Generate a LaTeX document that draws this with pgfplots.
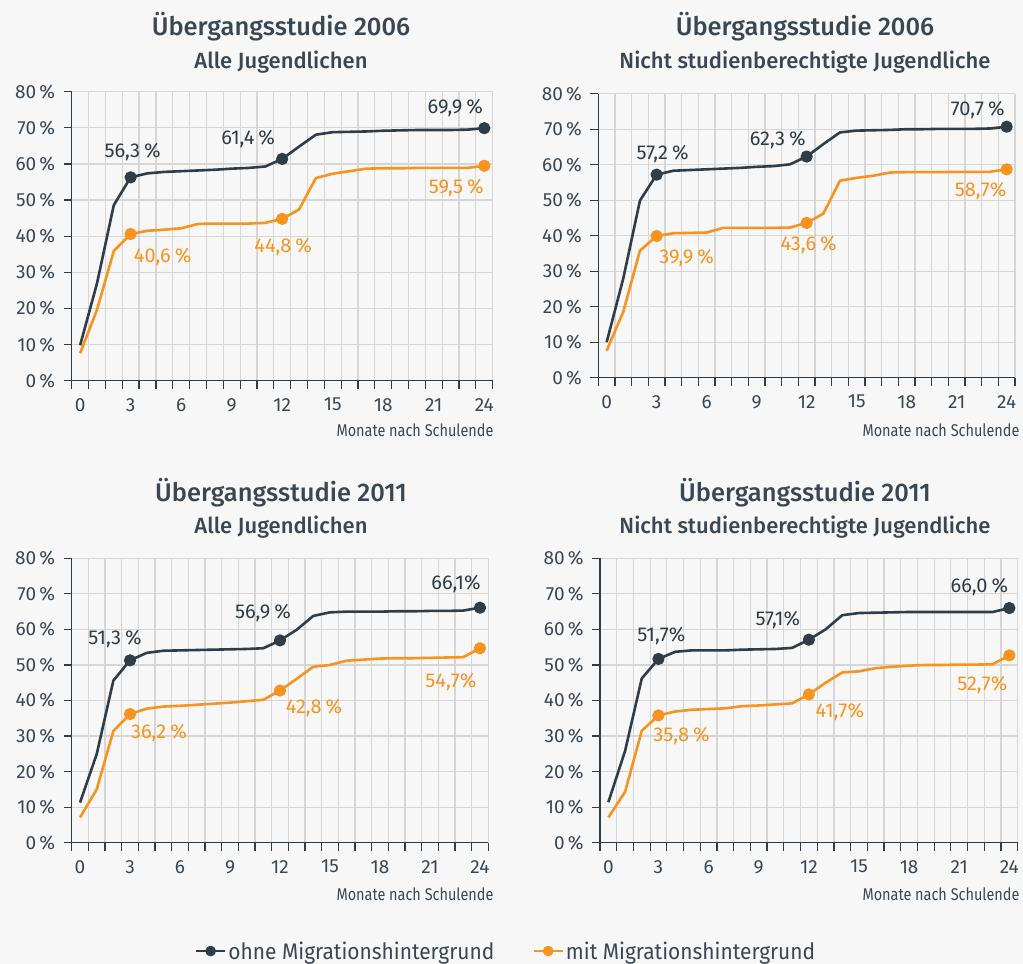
\documentclass[border=0pt]{standalone}
\usepackage{pgfplots}
\pgfplotsset{compat=1.18}
\usepackage{pgfplotstable}
\usepackage{fontspec}
\setmainfont{Fira Sans}
\newfontfamily\medfont{Fira Sans Medium}
\newfontfamily\condfont[FakeStretch=0.85]{Fira Sans}
\newfontfamily\legfont[FakeStretch=0.93]{Fira Sans}
\definecolor{bg}{HTML}{F7F7F7}
\definecolor{dk}{HTML}{2E3D48}
\definecolor{og}{HTML}{F7931E}
\definecolor{gr}{HTML}{D6D6D6}
\definecolor{tx}{HTML}{3A4753}

\pgfplotstableread{
m a b
0 9.8 7.6
1 26.9 19.6
2 48.6 35.9
3 56.3 40.6
4 57.4 41.5
5 57.8 41.8
6 58.0 42.2
7 58.2 43.4
8 58.4 43.5
9 58.7 43.5
10 58.9 43.5
11 59.3 43.7
12 61.4 44.8
13 64.8 47.4
14 68.1 56.1
15 68.8 57.3
16 68.9 58.0
17 69.0 58.7
18 69.2 58.8
19 69.3 58.8
20 69.4 58.9
21 69.4 58.9
22 69.4 58.9
23 69.5 58.9
24 69.9 59.5
}\tabTL
\pgfplotstableread{
m a b
0 10.0 7.6
1 28.0 18.6
2 49.9 35.8
3 57.2 39.9
4 58.3 40.7
5 58.5 40.8
6 58.7 40.9
7 58.9 42.2
8 59.1 42.2
9 59.4 42.2
10 59.6 42.2
11 60.1 42.3
12 62.3 43.6
13 65.8 46.2
14 69.1 55.5
15 69.6 56.3
16 69.7 56.9
17 69.8 57.8
18 70.0 57.9
19 70.0 57.9
20 70.1 57.9
21 70.1 58.0
22 70.1 58.0
23 70.2 58.0
24 70.7 58.7
}\tabTR
\pgfplotstableread{
m a b
0 11.3 7.1
1 24.9 15.0
2 45.6 31.4
3 51.3 36.2
4 53.4 37.7
5 54.0 38.3
6 54.1 38.5
7 54.2 38.8
8 54.3 39.1
9 54.4 39.4
10 54.5 39.8
11 54.7 40.2
12 56.9 42.8
13 59.9 46.1
14 63.8 49.5
15 64.8 50.0
16 65.0 51.2
17 65.0 51.5
18 65.0 51.8
19 65.1 51.9
20 65.1 51.9
21 65.2 52.0
22 65.2 52.1
23 65.3 52.2
24 66.1 54.7
}\tabBL
\pgfplotstableread{
m a b
0 11.4 7.1
1 25.8 14.3
2 46.2 31.5
3 51.7 35.8
4 53.7 36.9
5 54.1 37.4
6 54.1 37.6
7 54.1 37.8
8 54.3 38.4
9 54.4 38.6
10 54.5 38.9
11 54.8 39.2
12 57.1 41.7
13 60.0 45.0
14 64.0 47.9
15 64.6 48.2
16 64.7 49.1
17 64.8 49.5
18 64.9 49.8
19 64.9 50.0
20 64.9 50.0
21 64.9 50.1
22 64.9 50.1
23 64.9 50.2
24 66.0 52.7
}\tabBR

\newcommand{\pc}{\hspace{0.2em}\%}
\newcommand{\lab}[6]{\node[text=#5, font=\fontsize{20}{21}\selectfont, anchor=center] at ([shift={(#3pt,#4pt)}]axis cs:#1,#2) {#6};}

\pgfplotsset{panel/.style={
  scale only axis,
  xmin=-0.5, xmax=24.5, ymin=0, ymax=80,
  axis x line*=bottom, axis y line*=left,
  axis line style={dk, line width=1.4pt},
  xtick={0,3,...,24}, xticklabels={0,3,6,9,12,15,18,21,24},
  minor xtick={-0.5,0.5,...,24.5},
  major x tick style={draw=none},
  ytick={0,10,...,80},
  yticklabels={0\,\%,10\,\%,20\,\%,30\,\%,40\,\%,50\,\%,60\,\%,70\,\%,80\,\%},
  major tick length=8pt, minor tick length=8pt,
  tick align=outside,
  tick style={dk, line width=1.2pt},
  xminorgrids, ymajorgrids,
  grid style={gr, line width=1.2pt},
  minor grid style={gr, line width=1.2pt},
  every tick label/.style={font=\fontsize{19}{20}\selectfont, text=tx},
  xticklabel style={yshift=-6pt},
  yticklabel style={xshift=-5pt},
  clip=false,
}}
\pgfplotsset{
  dkline/.style={dk, line width=2.6pt, line join=round, mark=*, mark size=4.8pt, mark indices={4,13,25}},
  ogline/.style={og, line width=2.6pt, line join=round, mark=*, mark size=4.8pt, mark indices={4,13,25}},
}

\begin{document}
\begin{tikzpicture}[x=1pt,y=1pt]
\fill[bg] (0,0) rectangle (1023,-964);

% titles
\tikzset{ttl/.style={text=tx, font=\medfont\fontsize{25.5}{28}\selectfont, anchor=base},
         sub/.style={text=tx, font=\medfont\fontsize{22}{24}\selectfont, anchor=base},
         mon/.style={text=tx, font=\condfont\fontsize{17}{18}\selectfont, anchor=base east}}
\node[ttl] at (281,-35) {Übergangsstudie 2006};
\node[sub] at (281,-68) {Alle Jugendlichen};
\node[ttl] at (805,-35) {Übergangsstudie 2006};
\node[sub] at (805,-68) {Nicht studienberechtigte Jugendliche};
\node[ttl] at (281,-501.5) {Übergangsstudie 2011};
\node[sub] at (281,-533) {Alle Jugendlichen};
\node[ttl] at (805,-501.5) {Übergangsstudie 2011};
\node[sub] at (805,-533) {Nicht studienberechtigte Jugendliche};
\node[mon] at (497,-436) {Monate nach Schulende};
\node[mon] at (1023,-436) {Monate nach Schulende};
\node[mon] at (497,-900) {Monate nach Schulende};
\node[mon] at (1023,-900) {Monate nach Schulende};

% TL
\begin{axis}[panel, at={(71.7pt,-380.7pt)}, anchor=south west, width=421pt, height=289pt]
\addplot[dkline] table[x=m,y=a]{\tabTL};
\addplot[ogline] table[x=m,y=b]{\tabTL};
\lab{3}{56.3}{2}{25}{dk}{56,3\pc}
\lab{12}{61.4}{-34}{20}{dk}{61,4\pc}
\lab{24}{69.9}{-29}{20}{dk}{69,9\pc}
\lab{3}{40.6}{32}{-23}{og}{40,6\pc}
\lab{12}{44.8}{1}{-28}{og}{44,8\pc}
\lab{24}{59.5}{-28}{-22}{og}{59,5\pc}
\end{axis}

% TR
\begin{axis}[panel, at={(598.3pt,-377.7pt)}, anchor=south west, width=416.7pt, height=284pt]
\addplot[dkline] table[x=m,y=a]{\tabTR};
\addplot[ogline] table[x=m,y=b]{\tabTR};
\lab{3}{57.2}{6}{21}{dk}{57,2\pc}
\lab{12}{62.3}{-29}{16}{dk}{62,3\pc}
\lab{24}{70.7}{-29}{17}{dk}{70,7\pc}
\lab{3}{39.9}{30}{-22}{og}{39,9\pc}
\lab{12}{43.6}{2}{-22}{og}{43,6\pc}
\lab{24}{58.7}{-26}{-22}{og}{58,7\%}
\end{axis}

% BL
\begin{axis}[panel, at={(71.7pt,-842.7pt)}, anchor=south west, width=416.6pt, height=284.4pt,
  legend style={at={(1.0425,-0.381)}, anchor=center, draw=none, fill=none,
    font=\legfont\fontsize{22.5}{24}\selectfont, text=tx, legend columns=2,
    /tikz/every even column/.append style={column sep=36pt}},
  legend cell align=left]
\addplot[dkline, legend image code/.code={\draw[dk,line width=2.6pt] (0pt,0pt)--(29pt,0pt); \fill[dk] (14.5pt,0pt) circle (4pt);}] table[x=m,y=a]{\tabBL};
\addlegendentry{ohne Migrationshintergrund}
\addplot[ogline, legend image code/.code={\draw[og,line width=2.6pt] (0pt,0pt)--(29pt,0pt); \fill[og] (14.5pt,0pt) circle (4pt);}] table[x=m,y=b]{\tabBL};
\addlegendentry{mit Migrationshintergrund}
\lab{3}{51.3}{-15}{21}{dk}{51,3\pc}
\lab{12}{56.9}{-17}{27}{dk}{56,9\pc}
\lab{24}{66.1}{-24}{24}{dk}{66,1\%}
\lab{3}{36.2}{29}{-19}{og}{36,2\pc}
\lab{12}{42.8}{34}{-17}{og}{42,8\pc}
\lab{24}{54.7}{-29}{-34}{og}{54,7\%}
\end{axis}

% BR
\begin{axis}[panel, at={(600pt,-842.7pt)}, anchor=south west, width=417.7pt, height=284.4pt]
\addplot[dkline] table[x=m,y=a]{\tabBR};
\addplot[ogline] table[x=m,y=b]{\tabBR};
\lab{3}{51.7}{3}{23}{dk}{51,7\%}
\lab{12}{57.1}{-31}{20}{dk}{57,1\%}
\lab{24}{66.0}{-30}{21}{dk}{66,0\pc}
\lab{3}{35.8}{23}{-21}{og}{35,8\pc}
\lab{12}{41.7}{31}{-18}{og}{41,7\%}
\lab{24}{52.7}{-27}{-30}{og}{52,7\%}
\end{axis}

\pgfresetboundingbox
\path[use as bounding box] (0,0) rectangle (1023,-964);
\end{tikzpicture}
\end{document}
